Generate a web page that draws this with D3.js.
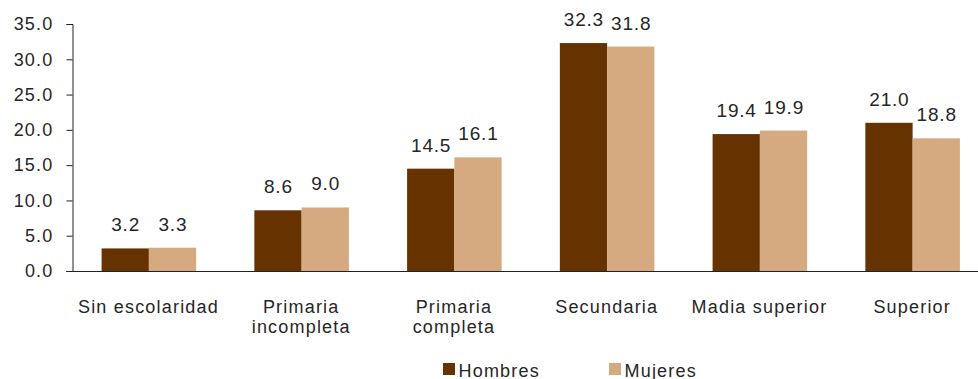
<!DOCTYPE html>
<html>
<head>
<meta charset="utf-8">
<script src="https://cdn.jsdelivr.net/npm/d3@7"></script>
<style>
  html, body { margin: 0; padding: 0; background: #fff; }
  svg { display: block; font-family: "Liberation Sans", Arial, sans-serif; }
</style>
</head>
<body>
<svg id="chart" width="978" height="379"></svg>
<script>
// Schooling level distribution by sex (%)
const categories = [
  ["Sin escolaridad"],
  ["Primaria", "incompleta"],
  ["Primaria", "completa"],
  ["Secundaria"],
  ["Madia superior"],
  ["Superior"]
];
const hombres = [3.2, 8.6, 14.5, 32.3, 19.4, 21.0];
const mujeres = [3.3, 9.0, 16.1, 31.8, 19.9, 18.8];
const seriesNames = ["Hombres", "Mujeres"];
const seriesColors = ["#663300", "#D5AA80"];
const yTicks = [0, 5, 10, 15, 20, 25, 30, 35];

const svg = d3.select("#chart");
const textColor = "#262626";
const spacing = 1.2;

const plotLeft = 72.5, plotRight = 989, plotTop = 24, plotBottom = 271;

const catKeys = categories.map((c, i) => i);
const x0 = d3.scaleBand().domain(catKeys).range([plotLeft, plotRight])
  .paddingInner(0.381).paddingOuter(0.1905);
const x1 = d3.scaleBand().domain([0, 1]).range([0, x0.bandwidth()]);
const y = d3.scaleLinear().domain([0, 35]).range([plotBottom, plotTop]);

// Y axis
const yAxis = svg.append("g")
  .attr("transform", `translate(${plotLeft},0)`)
  .call(d3.axisLeft(y).tickValues(yTicks).tickFormat(d3.format(".1f")).tickSizeOuter(0).tickSize(6).tickPadding(13));
yAxis.select(".domain").attr("stroke", "#222");
yAxis.selectAll(".tick line").attr("stroke", "#222");
yAxis.selectAll(".tick text")
  .attr("fill", textColor)
  .style("font-size", "18px")
  .style("letter-spacing", spacing + "px")
  .style("font-family", "'Liberation Sans', Arial, sans-serif");

// Bars
const data = categories.map((c, i) => ({ i, vals: [hombres[i], mujeres[i]] }));
const groups = svg.append("g").selectAll("g").data(data).join("g")
  .attr("transform", d => `translate(${x0(d.i)},0)`);

groups.selectAll("rect")
  .data(d => d.vals.map((v, s) => ({ v, s })))
  .join("rect")
  .attr("x", d => x1(d.s))
  .attr("width", x1.bandwidth())
  .attr("y", d => y(d.v))
  .attr("height", d => y(0) - y(d.v))
  .attr("fill", d => seriesColors[d.s]);

// Value labels
groups.selectAll("text")
  .data(d => d.vals.map((v, s) => ({ v, s })))
  .join("text")
  .attr("x", d => x1(d.s) + x1.bandwidth() / 2 + 0.4)
  .attr("y", d => y(d.v) - 17)
  .attr("text-anchor", "middle")
  .attr("fill", textColor)
  .style("font-size", "19px")
  .style("letter-spacing", "0.8px")
  .text(d => d.v.toFixed(1));

// Baseline (x axis)
svg.append("line")
  .attr("x1", plotLeft - 6).attr("x2", plotRight)
  .attr("y1", plotBottom + 0.5).attr("y2", plotBottom + 0.5)
  .attr("stroke", "#222");

// Category labels
const catLabels = svg.append("g").selectAll("text").data(categories).join("text")
  .attr("x", (d, i) => x0(i) + x0.bandwidth() / 2 + spacing / 2 - 1)
  .attr("y", 312.5)
  .attr("text-anchor", "middle")
  .attr("fill", textColor)
  .style("font-size", "18px")
  .style("letter-spacing", spacing + "px");
catLabels.selectAll("tspan").data(d => d).join("tspan")
  .attr("x", function () { return d3.select(this.parentNode).attr("x"); })
  .attr("dy", (d, j) => j === 0 ? 0 : 20)
  .text(d => d);

// Legend
const legendX = [443, 609];
const legend = svg.append("g").selectAll("g").data(seriesNames).join("g")
  .attr("transform", (d, i) => `translate(${legendX[i]},363)`);
legend.append("rect").attr("width", 12).attr("height", 12)
  .attr("fill", (d, i) => seriesColors[i]);
legend.append("text").attr("x", 15.5).attr("y", 13.5)
  .attr("fill", textColor)
  .style("font-size", "18px")
  .style("letter-spacing", spacing + "px")
  .text(d => d);
</script>
</body>
</html>
